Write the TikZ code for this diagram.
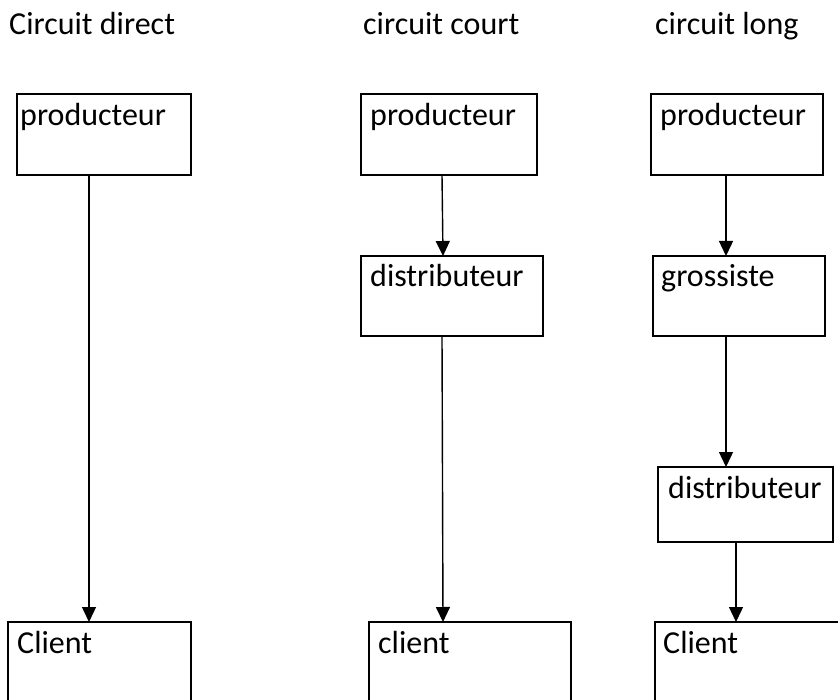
\documentclass[tikz,border=0pt]{standalone}
\usepackage{fontspec}
\setmainfont{Carlito}
\usetikzlibrary{arrows.meta}
\begin{document}
\begin{tikzpicture}[x=1pt,y=-1pt,
  stage/.style={draw=black,line width=2.4pt,anchor=north west,inner sep=0pt,outer sep=0pt},
  lbl/.style={anchor=base west,inner sep=0pt,font=\fontsize{32}{38}\selectfont},
  ttl/.style={anchor=base west,inner sep=0pt,font=\fontsize{32}{38}\selectfont},
  flow/.style={line width=1.4pt,-{Triangle[length=15pt,width=14pt]}}]
\useasboundingbox (0,0) rectangle (838,700);
\clip (0,0) rectangle (838,700);

% column headings
\node[ttl] (t1) at (9,35) {Circuit direct};
\node[ttl] (t2) at (363,35) {circuit court};
\node[ttl] (t3) at (655,35) {circuit long};

% circuit direct
\node[stage,minimum width=174pt,minimum height=81pt] (p1) at (17,94) {};
\node[lbl] (p1t) at ([xshift=3pt,yshift=-32pt]p1.north west) {producteur};
\node[stage,minimum width=183pt,minimum height=100pt] (c1) at (8,622) {};
\node[lbl] (c1t) at ([xshift=9pt,yshift=-31pt]c1.north west) {Client};

% circuit court
\node[stage,minimum width=176pt,minimum height=81pt] (p2) at (361,94) {};
\node[lbl] (p2t) at ([xshift=9pt,yshift=-32pt]p2.north west) {producteur};
\node[stage,minimum width=182pt,minimum height=80pt] (d2) at (361,256) {};
\node[lbl] (d2t) at ([xshift=9pt,yshift=-31pt]d2.north west) {distributeur};
\node[stage,minimum width=202pt,minimum height=100pt] (c2) at (369,622) {};
\node[lbl] (c2t) at ([xshift=9pt,yshift=-31pt]c2.north west) {client};

% circuit long
\node[stage,minimum width=172pt,minimum height=81pt] (p3) at (651,94) {};
\node[lbl] (p3t) at ([xshift=9pt,yshift=-32pt]p3.north west) {producteur};
\node[stage,minimum width=172pt,minimum height=80pt] (g3) at (653,256) {};
\node[lbl] (g3t) at ([xshift=8pt,yshift=-31pt]g3.north west) {grossiste};
\node[stage,minimum width=175pt,minimum height=75pt] (d3) at (658,467) {};
\node[lbl] (d3t) at ([xshift=10pt,yshift=-31pt]d3.north west) {distributeur};
\node[stage,minimum width=200pt,minimum height=100pt] (c3) at (655,622) {};
\node[lbl] (c3t) at ([xshift=8pt,yshift=-31pt]c3.north west) {Client};

% connectors
\draw[flow] ([xshift=72pt]p1.south west) -- ([xshift=81pt]c1.north west);
\draw[flow] ([xshift=81pt]p2.south west) -- ([xshift=82pt]d2.north west);
\draw[flow] ([xshift=81pt]d2.south west) -- ([xshift=74pt]c2.north west);
\draw[flow] ([xshift=75pt]p3.south west) -- ([xshift=73pt]g3.north west);
\draw[flow] ([xshift=73pt]g3.south west) -- ([xshift=68pt]d3.north west);
\draw[flow] ([xshift=78pt]d3.south west) -- ([xshift=81pt]c3.north west);
\end{tikzpicture}
\end{document}
